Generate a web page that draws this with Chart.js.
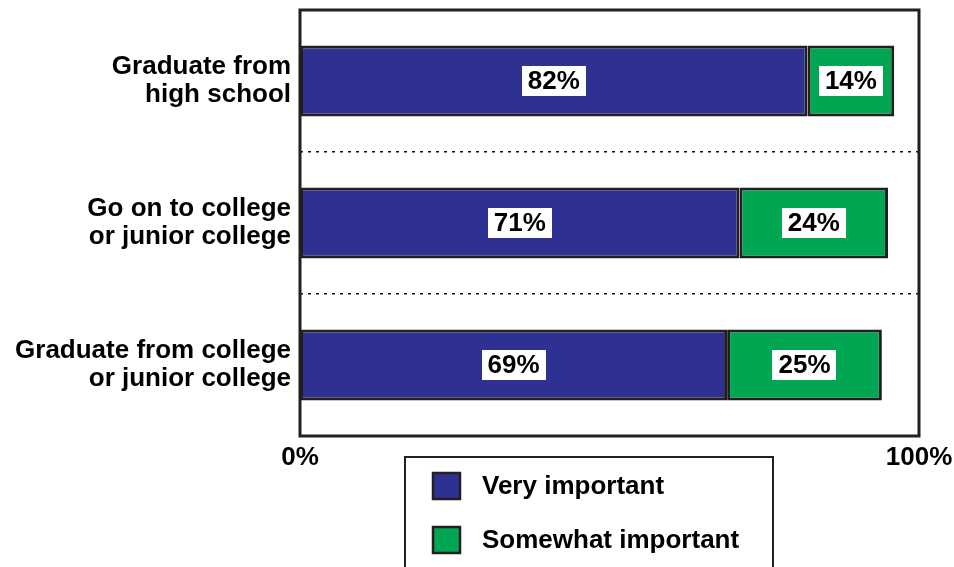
<!DOCTYPE html>
<html>
<head>
<meta charset="utf-8">
<title>Importance of education</title>
<script src="https://cdn.jsdelivr.net/npm/chart.js@4.4.1/dist/chart.umd.min.js"></script>
<style>
    html, body { margin: 0; padding: 0; background: #fff; }
    #wrap { width: 954px; height: 567px; position: relative; }
</style>
</head>
<body>
<div id="wrap"><canvas id="chart"></canvas></div>
<script>
// Data
const categories = [
    ['Graduate from', 'high school'],
    ['Go on to college', 'or junior college'],
    ['Graduate from college', 'or junior college']
];
const seriesNames = ['Very important', 'Somewhat important'];
const veryImportant = [82, 71, 69];
const somewhatImportant = [14, 24, 25];
const xTickValues = [0, 100];

const FONT = '"Liberation Sans", Arial, Helvetica, sans-serif';
const INK = '#231f20';
const BLUE = '#2e3192';
const GREEN = '#00a651';

// White boxes with the value inside each bar
const valueLabels = {
    id: 'valueLabels',
    afterDatasetsDraw(chart) {
        const ctx = chart.ctx;
        ctx.save();
        ctx.font = 'bold 26px ' + FONT;
        ctx.textAlign = 'center';
        ctx.textBaseline = 'middle';
        chart.data.datasets.forEach((ds, i) => {
            const meta = chart.getDatasetMeta(i);
            meta.data.forEach((bar, j) => {
                const text = ds.data[j] + '%';
                const cx = (bar.base + bar.x) / 2;
                const w = ctx.measureText(text).width + 12;
                const h = 30;
                ctx.fillStyle = '#fff';
                ctx.fillRect(Math.round(cx - w / 2), Math.round(bar.y - h / 2), Math.round(w), h);
                ctx.fillStyle = '#000';
                ctx.fillText(text, cx, bar.y + 1);
            });
        });
        ctx.restore();
    }
};

// Frame around the plot area
const plotFrame = {
    id: 'plotFrame',
    afterDatasetsDraw(chart) {
        const a = chart.chartArea;
        const ctx = chart.ctx;
        ctx.save();
        ctx.strokeStyle = INK;
        ctx.lineWidth = 3;
        ctx.strokeRect(a.left, a.top, a.right - a.left, a.bottom - a.top);
        ctx.restore();
    }
};

// Boxed legend below the plot
const boxLegend = {
    id: 'boxLegend',
    afterDraw(chart) {
        const a = chart.chartArea;
        const ctx = chart.ctx;
        const left = a.left + 105;
        const top = a.bottom + 21;
        ctx.save();
        ctx.strokeStyle = INK;
        ctx.lineWidth = 2;
        ctx.strokeRect(left, top, 368, 130);
        ctx.font = 'bold 26px ' + FONT;
        ctx.textAlign = 'left';
        ctx.textBaseline = 'middle';
        chart.data.datasets.forEach((ds, i) => {
            const y = top + 16 + i * 54;
            ctx.fillStyle = ds.backgroundColor;
            ctx.fillRect(left + 28, y, 27, 26);
            ctx.lineWidth = 2.5;
            ctx.strokeRect(left + 28, y, 27, 26);
            ctx.fillStyle = '#000';
            ctx.fillText(ds.label, left + 77, y + 14);
        });
        ctx.restore();
    }
};

const ctx = document.getElementById('chart').getContext('2d');
const chart = new Chart(ctx, {
    type: 'bar',
    data: {
        labels: categories,
        datasets: [
            {
                label: seriesNames[0],
                data: veryImportant,
                backgroundColor: BLUE,
                borderColor: INK,
                borderWidth: 3,
                borderSkipped: false,
                barPercentage: 0.5,
                categoryPercentage: 1
            },
            {
                label: seriesNames[1],
                data: somewhatImportant,
                backgroundColor: GREEN,
                borderColor: INK,
                borderWidth: 3,
                borderSkipped: false,
                barPercentage: 0.5,
                categoryPercentage: 1
            }
        ]
    },
    options: {
        indexAxis: 'y',
        responsive: true,
        maintainAspectRatio: false,
        animation: false,
        layout: { padding: { top: 10, right: 35, left: 0, bottom: 0 } },
        plugins: {
            legend: { display: false },
            tooltip: { enabled: false }
        },
        scales: {
            x: {
                stacked: true,
                min: 0,
                max: 100,
                afterBuildTicks(scale) {
                    scale.ticks = xTickValues.map(v => ({ value: v }));
                },
                afterFit(scale) {
                    scale.height = 131;
                    scale.paddingLeft = 0;
                    scale.paddingRight = 0;
                },
                grid: { display: false, drawTicks: false },
                border: { display: false },
                ticks: {
                    padding: 6,
                    maxRotation: 0,
                    color: '#000',
                    font: { family: FONT, size: 26, weight: 'bold' },
                    callback: v => v + '%'
                }
            },
            y: {
                stacked: true,
                afterFit(scale) {
                    scale.width = 300;
                    scale.paddingTop = 0;
                    scale.paddingBottom = 0;
                },
                grid: {
                    offset: true,
                    drawTicks: false,
                    color: '#111',
                    lineWidth: 1.5
                },
                border: { display: false, dash: [3, 5] },
                ticks: {
                    padding: 9,
                    color: '#000',
                    font: { family: FONT, size: 26, weight: 'bold', lineHeight: 1.1 }
                }
            }
        }
    },
    plugins: [valueLabels, plotFrame, boxLegend]
});
</script>
</body>
</html>
